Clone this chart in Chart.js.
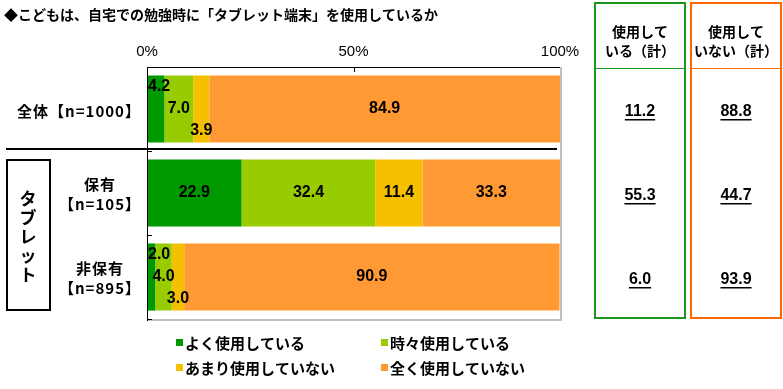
<!DOCTYPE html>
<html>
<head>
<meta charset="utf-8">
<script src="https://cdn.jsdelivr.net/npm/chart.js@4.4.1/dist/chart.umd.min.js"></script>
<style>
  html, body { margin: 0; padding: 0; background: #fff; }
  #wrap { width: 783px; height: 389px; }
</style>
</head>
<body>
<div id="wrap"><canvas id="chart" width="783" height="389"></canvas></div>
<script>

const title = '◆こどもは、自宅での勉強時に「タブレット端末」を使用しているか';
const categories = [['全体【n=1000】'], ['保有', '【n=105】'], ['非保有', '【n=895】']];
const groupName = 'タブレット';
const seriesNames = ['よく使用している', '時々使用している', 'あまり使用していない', '全く使用していない'];
const oftenUse = [4.2, 22.9, 2.0];
const sometimesUse = [7.0, 32.4, 4.0];
const rarelyUse = [3.9, 11.4, 3.0];
const neverUse = [84.9, 33.3, 90.9];
const usedHeader = ['使用して', 'いる（計）'];
const notUsedHeader = ['使用して', 'いない（計）'];
const usedTotal = [11.2, 55.3, 6.0];
const notUsedTotal = [88.8, 44.7, 93.9];
const xTicks = [0, 50, 100];

const colors = ['#009900', '#99CC00', '#F5C000', '#FF9933'];
const FONT = "'Liberation Sans', 'Noto Sans CJK JP', sans-serif";
const JP = "'Noto Sans CJK JP', 'Liberation Sans', sans-serif";

const seriesData = [oftenUse, sometimesUse, rarelyUse, neverUse];

// labels, boxes, legend drawn on top of the bars
const decor = {
    id: 'decor',
    afterDatasetsDraw(chart) {
        const { ctx, chartArea: a, scales: { y } } = chart;
        ctx.save();
        ctx.fillStyle = '#000';
        ctx.textAlign = 'center';
        ctx.textBaseline = 'middle';
        ctx.font = 'bold 16px ' + FONT;

        // value labels (small segments get staggered up / down)
        chart.data.datasets.forEach((ds, i) => {
            chart.getDatasetMeta(i).data.forEach((bar, j) => {
                const crowded = chart.data.datasets.some(d => d.data[j] < 8);
                const txt = ds.data[j].toFixed(1);
                const tw = ctx.measureText(txt).width;
                let cx = (bar.x + bar.base) / 2;
                let cy = bar.y;
                if (crowded && i < 3) cy += [-22, 0, 22][i];
                if (cx - tw / 2 < a.left + 1) cx = a.left + 1 + tw / 2;
                ctx.fillText(txt, cx, cy);
            });
        });

        // plot frame
        ctx.lineWidth = 2;
        ctx.strokeStyle = '#BFBFBF';
        ctx.beginPath();
        ctx.moveTo(a.right + 1, a.top);
        ctx.lineTo(a.right + 1, a.bottom + 1);
        ctx.lineTo(a.left, a.bottom + 1);
        ctx.stroke();

        ctx.lineWidth = 1;
        ctx.strokeStyle = '#000';
        ctx.beginPath();
        ctx.moveTo(a.left, a.top + 0.5);
        ctx.lineTo(a.right, a.top + 0.5);
        ctx.moveTo(a.left + 0.5, a.top);
        ctx.lineTo(a.left + 0.5, a.bottom + 2);
        const mid = chart.scales.x.getPixelForValue(50);
        ctx.moveTo(Math.round(mid) + 0.5, a.top);
        ctx.lineTo(Math.round(mid) + 0.5, a.top + 5);
        const step = y.getPixelForValue(1) - y.getPixelForValue(0);
        for (let k = 0; k <= categories.length; k++) {
            const ty = Math.round(a.top + k * step) + 0.5;
            ctx.moveTo(a.left, ty);
            ctx.lineTo(a.left + 5, ty);
        }
        ctx.stroke();

        // separator between total and tablet groups
        ctx.lineWidth = 2;
        ctx.beginPath();
        ctx.moveTo(6, 149);
        ctx.lineTo(557, 149);
        ctx.stroke();

        // title
        ctx.textAlign = 'left';
        ctx.font = 'bold 14px ' + JP;
        ctx.fillText(title, 4, 15);

        // category labels
        ctx.textAlign = 'center';
        ctx.font = 'bold 15px ' + JP;
        ctx.letterSpacing = '1px';
        categories.forEach((lines, j) => {
            const cy = y.getPixelForValue(j);
            if (lines.length === 1) {
                ctx.fillText(lines[0], 79, cy + 2);
            } else {
                ctx.fillText(lines[0], 100, cy - 9);
                ctx.fillText(lines[1], 100, cy + 11);
            }
        });
        ctx.letterSpacing = '0px';

        // tablet group box
        ctx.lineWidth = 2;
        ctx.strokeRect(7, 160, 43, 150);
        ctx.font = 'bold 17px ' + JP;
        [...groupName].forEach((ch, k) => {
            ctx.fillText(ch, 28, 199 + k * 19);
        });

        // summary boxes
        const boxes = [
            { x: 595, color: '#1A961A', head: usedHeader, vals: usedTotal },
            { x: 691, color: '#FF6600', head: notUsedHeader, vals: notUsedTotal }
        ];
        boxes.forEach(b => {
            ctx.strokeStyle = b.color;
            ctx.lineWidth = 2;
            ctx.strokeRect(b.x, 3, 90, 315);
            ctx.lineWidth = 1;
            ctx.beginPath();
            ctx.moveTo(b.x, 68.5);
            ctx.lineTo(b.x + 90, 68.5);
            ctx.stroke();
            const cx = b.x + 45;
            ctx.fillStyle = '#000';
            ctx.font = 'bold 14px ' + JP;
            ctx.fillText(b.head[0], cx, 32);
            ctx.fillText(b.head[1], cx, 51);
            ctx.font = 'bold 16px ' + FONT;
            b.vals.forEach((v, j) => {
                const t = v.toFixed(1);
                const cy = y.getPixelForValue(j) + 3;
                ctx.fillText(t, cx, cy);
                const tw = ctx.measureText(t).width;
                ctx.fillRect(cx - tw / 2, cy + 7, tw, 1.5);
            });
        });

        // legend
        ctx.textAlign = 'left';
        ctx.font = 'bold 15px ' + JP;
        const spots = [[176, 343], [381, 343], [176, 368], [381, 368]];
        chart.data.datasets.forEach((ds, i) => {
            const [lx, ly] = spots[i];
            ctx.fillStyle = ds.backgroundColor;
            ctx.fillRect(lx, ly - 4, 7, 7);
            ctx.fillStyle = '#000';
            ctx.fillText(ds.label, lx + 9, ly);
        });

        ctx.restore();
    }
};

new Chart(document.getElementById('chart'), {
    type: 'bar',
    data: {
        labels: categories.map(c => c.join('')),
        datasets: seriesNames.map((name, i) => ({
            label: name,
            data: seriesData[i],
            backgroundColor: colors[i],
            borderWidth: 0,
            barPercentage: 0.8,
            categoryPercentage: 1.0
        }))
    },
    options: {
        indexAxis: 'y',
        responsive: false,
        animation: false,
        layout: { padding: { left: 147, right: 223, top: 41, bottom: 70 } },
        scales: {
            x: {
                position: 'top',
                stacked: true,
                min: 0,
                max: 100,
                afterBuildTicks: s => { s.ticks = xTicks.map(v => ({ value: v })); },
                afterFit: s => { s.height = 26; },
                ticks: {
                    callback: v => v + '%',
                    color: '#000',
                    font: { size: 15, family: FONT },
                    padding: 6,
                    maxRotation: 0,
                    autoSkip: false
                },
                grid: { display: false, drawTicks: false },
                border: { display: false }
            },
            y: {
                stacked: true,
                display: false
            }
        },
        plugins: {
            legend: { display: false },
            tooltip: { enabled: false }
        }
    },
    plugins: [decor]
});

</script>
</body>
</html>
